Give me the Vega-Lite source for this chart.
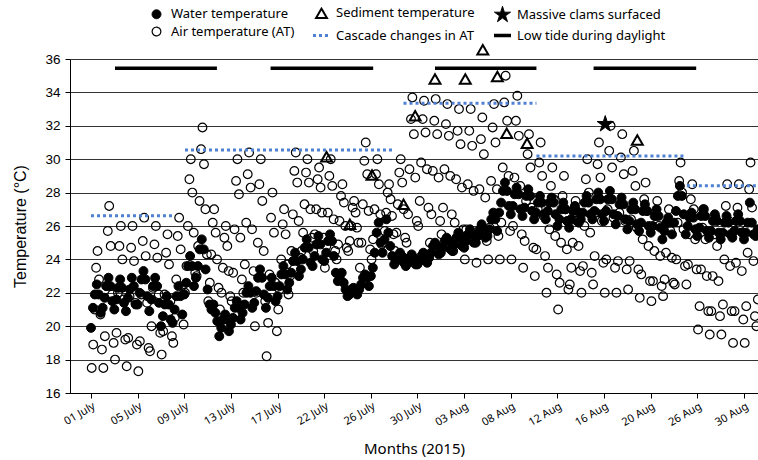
{
"$schema": "https://vega.github.io/schema/vega-lite/v6.json",
"width": 688, "height": 334,
"autosize": {"type": "none"},
"padding": {"left": 70, "top": 59, "right": 0, "bottom": 67},
"background": "white",
"config": {
  "view": {"stroke": null},
  "legend": {"orient": "none", "legendX": 76, "legendY": -54, "columns": 3, "columnPadding": 11, "rowPadding": 0, "labelFont": "Noto Sans", "labelFontSize": 13, "labelColor": "#000", "labelOffset": 4, "symbolOffset": 0, "padding": 0}
},
"datasets": {
"water": [
{"d":0,"t":19.9},{"d":0.17,"t":21.1},{"d":0.33,"t":21.9},{"d":0.5,"t":22.5},{"d":0.67,"t":21.9},{"d":0.83,"t":20.8},
{"d":1,"t":21.1},{"d":1.17,"t":21.7},{"d":1.33,"t":22.4},{"d":1.5,"t":22.9},{"d":1.67,"t":22.4},{"d":1.83,"t":21.5},
{"d":2,"t":21.0},{"d":2.17,"t":21.6},{"d":2.33,"t":22.3},{"d":2.5,"t":22.8},{"d":2.67,"t":22.3},{"d":2.83,"t":21.4},
{"d":3,"t":20.9},{"d":3.17,"t":21.7},{"d":3.33,"t":22.2},{"d":3.5,"t":22.9},{"d":3.67,"t":22.4},{"d":3.83,"t":21.3},
{"d":4,"t":21.3},{"d":4.17,"t":22.0},{"d":4.33,"t":22.8},{"d":4.5,"t":23.3},{"d":4.67,"t":22.8},{"d":4.83,"t":21.8},
{"d":5,"t":20.9},{"d":5.17,"t":21.6},{"d":5.33,"t":22.4},{"d":5.5,"t":22.9},{"d":5.67,"t":22.4},{"d":5.83,"t":21.4},
{"d":6,"t":20.0},{"d":6.17,"t":20.6},{"d":6.33,"t":21.3},{"d":6.5,"t":21.8},{"d":6.67,"t":21.3},{"d":6.83,"t":20.4},
{"d":7,"t":20.2},{"d":7.17,"t":21.0},{"d":7.33,"t":21.8},{"d":7.5,"t":22.4},{"d":7.67,"t":21.8},{"d":7.83,"t":20.7},
{"d":8,"t":21.9},{"d":8.17,"t":22.6},{"d":8.33,"t":23.6},{"d":8.5,"t":24.2},{"d":8.67,"t":23.6},{"d":8.83,"t":22.4},
{"d":9,"t":22.9},{"d":9.17,"t":23.6},{"d":9.33,"t":24.6},{"d":9.5,"t":25.2},{"d":9.67,"t":24.6},{"d":9.83,"t":23.4},
{"d":10,"t":22.2},{"d":10.17,"t":21.3},{"d":10.33,"t":21.0},{"d":10.5,"t":21.3},{"d":10.67,"t":20.8},{"d":10.83,"t":20.3},
{"d":11,"t":19.4},{"d":11.17,"t":19.9},{"d":11.33,"t":20.4},{"d":11.5,"t":20.7},{"d":11.67,"t":20.4},{"d":11.83,"t":19.7},
{"d":12,"t":20.1},{"d":12.17,"t":20.5},{"d":12.33,"t":21.1},{"d":12.5,"t":21.5},{"d":12.67,"t":21.1},{"d":12.83,"t":20.4},
{"d":13,"t":20.8},{"d":13.17,"t":21.3},{"d":13.33,"t":22.0},{"d":13.5,"t":22.4},{"d":13.67,"t":22.0},{"d":13.83,"t":21.1},
{"d":14,"t":21.4},{"d":14.17,"t":22.1},{"d":14.33,"t":22.9},{"d":14.5,"t":23.4},{"d":14.67,"t":22.9},{"d":14.83,"t":21.9},
{"d":15,"t":21.1},{"d":15.17,"t":21.7},{"d":15.33,"t":22.4},{"d":15.5,"t":22.9},{"d":15.67,"t":22.4},{"d":15.83,"t":21.5},
{"d":16,"t":21.8},{"d":16.17,"t":22.4},{"d":16.33,"t":23.1},{"d":16.5,"t":23.6},{"d":16.67,"t":23.1},{"d":16.83,"t":22.2},
{"d":17,"t":22.6},{"d":17.17,"t":23.2},{"d":17.33,"t":23.9},{"d":17.5,"t":24.4},{"d":17.67,"t":23.9},{"d":17.83,"t":23.0},
{"d":18,"t":23.4},{"d":18.17,"t":24.0},{"d":18.33,"t":24.7},{"d":18.5,"t":25.2},{"d":18.67,"t":24.7},{"d":18.83,"t":23.8},
{"d":19,"t":23.6},{"d":19.17,"t":24.2},{"d":19.33,"t":24.9},{"d":19.5,"t":25.4},{"d":19.67,"t":24.9},{"d":19.83,"t":24.0},
{"d":20,"t":23.9},{"d":20.17,"t":24.4},{"d":20.33,"t":25.1},{"d":20.5,"t":25.5},{"d":20.67,"t":25.1},{"d":20.83,"t":24.2},
{"d":21,"t":23.2},{"d":21.17,"t":22.7},{"d":21.33,"t":22.9},{"d":21.5,"t":23.2},{"d":21.67,"t":22.6},{"d":21.83,"t":22.2},
{"d":22,"t":21.8},{"d":22.17,"t":21.9},{"d":22.33,"t":22.2},{"d":22.5,"t":22.3},{"d":22.67,"t":22.1},{"d":22.83,"t":21.9},
{"d":23,"t":22.2},{"d":23.17,"t":22.5},{"d":23.33,"t":22.9},{"d":23.5,"t":23.1},{"d":23.67,"t":22.9},{"d":23.83,"t":22.4},
{"d":24,"t":23.0},{"d":24.17,"t":23.5},{"d":24.33,"t":24.4},{"d":24.5,"t":25.6},{"d":24.67,"t":26.2},{"d":24.83,"t":25.0},
{"d":25,"t":24.4},{"d":25.17,"t":25.2},{"d":25.33,"t":26.4},{"d":25.5,"t":25.6},{"d":25.67,"t":24.8},{"d":25.83,"t":24.2},
{"d":26,"t":23.7},{"d":26.17,"t":23.9},{"d":26.33,"t":24.2},{"d":26.5,"t":24.4},{"d":26.67,"t":24.2},{"d":26.83,"t":23.8},
{"d":27,"t":23.6},{"d":27.17,"t":23.8},{"d":27.33,"t":24.1},{"d":27.5,"t":24.3},{"d":27.67,"t":24.1},{"d":27.83,"t":23.7},
{"d":28,"t":23.7},{"d":28.17,"t":23.9},{"d":28.33,"t":24.2},{"d":28.5,"t":24.4},{"d":28.67,"t":24.2},{"d":28.83,"t":23.8},
{"d":29,"t":24.1},{"d":29.17,"t":24.4},{"d":29.33,"t":24.8},{"d":29.5,"t":25.0},{"d":29.67,"t":24.8},{"d":29.83,"t":24.3},
{"d":30,"t":24.4},{"d":30.17,"t":24.7},{"d":30.33,"t":25.1},{"d":30.5,"t":25.3},{"d":30.67,"t":25.1},{"d":30.83,"t":24.6},
{"d":31,"t":24.5},{"d":31.17,"t":24.9},{"d":31.33,"t":25.3},{"d":31.5,"t":25.6},{"d":31.67,"t":25.3},{"d":31.83,"t":24.8},
{"d":32,"t":24.7},{"d":32.17,"t":25.1},{"d":32.33,"t":25.5},{"d":32.5,"t":25.8},{"d":32.67,"t":25.5},{"d":32.83,"t":25.0},
{"d":33,"t":25.0},{"d":33.17,"t":25.4},{"d":33.33,"t":25.8},{"d":33.5,"t":26.1},{"d":33.67,"t":25.8},{"d":33.83,"t":25.3},
{"d":34,"t":25.4},{"d":34.17,"t":25.8},{"d":34.33,"t":26.4},{"d":34.5,"t":26.8},{"d":34.67,"t":26.4},{"d":34.83,"t":25.7},
{"d":35,"t":26.8},{"d":35.17,"t":27.4},{"d":35.33,"t":28.1},{"d":35.5,"t":28.6},{"d":35.67,"t":28.1},{"d":35.83,"t":27.2},
{"d":36,"t":26.7},{"d":36.17,"t":27.2},{"d":36.33,"t":27.9},{"d":36.5,"t":28.3},{"d":36.67,"t":27.9},{"d":36.83,"t":27.0},
{"d":37,"t":26.6},{"d":37.17,"t":27.1},{"d":37.33,"t":27.8},{"d":37.5,"t":28.2},{"d":37.67,"t":27.8},{"d":37.83,"t":26.9},
{"d":38,"t":26.4},{"d":38.17,"t":26.8},{"d":38.33,"t":27.4},{"d":38.5,"t":27.8},{"d":38.67,"t":27.4},{"d":38.83,"t":26.7},
{"d":39,"t":26.4},{"d":39.17,"t":26.9},{"d":39.33,"t":27.4},{"d":39.5,"t":27.7},{"d":39.67,"t":27.4},{"d":39.83,"t":26.7},
{"d":40,"t":26.0},{"d":40.17,"t":26.4},{"d":40.33,"t":27.0},{"d":40.5,"t":27.4},{"d":40.67,"t":27.0},{"d":40.83,"t":26.3},
{"d":41,"t":25.9},{"d":41.17,"t":26.4},{"d":41.33,"t":26.9},{"d":41.5,"t":27.2},{"d":41.67,"t":26.9},{"d":41.83,"t":26.2},
{"d":42,"t":26.4},{"d":42.17,"t":26.8},{"d":42.33,"t":27.4},{"d":42.5,"t":27.8},{"d":42.67,"t":27.4},{"d":42.83,"t":26.7},
{"d":43,"t":26.4},{"d":43.17,"t":26.9},{"d":43.33,"t":27.6},{"d":43.5,"t":28.0},{"d":43.67,"t":27.6},{"d":43.83,"t":26.7},
{"d":44,"t":26.3},{"d":44.17,"t":26.9},{"d":44.33,"t":27.6},{"d":44.5,"t":28.1},{"d":44.67,"t":27.6},{"d":44.83,"t":26.7},
{"d":45,"t":26.1},{"d":45.17,"t":26.6},{"d":45.33,"t":27.3},{"d":45.5,"t":27.7},{"d":45.67,"t":27.3},{"d":45.83,"t":26.4},
{"d":46,"t":25.8},{"d":46.17,"t":26.3},{"d":46.33,"t":27.0},{"d":46.5,"t":27.4},{"d":46.67,"t":27.0},{"d":46.83,"t":26.1},
{"d":47,"t":25.7},{"d":47.17,"t":26.2},{"d":47.33,"t":26.9},{"d":47.5,"t":27.3},{"d":47.67,"t":26.9},{"d":47.83,"t":26.0},
{"d":48,"t":25.6},{"d":48.17,"t":26.0},{"d":48.33,"t":26.6},{"d":48.5,"t":27.0},{"d":48.67,"t":26.6},{"d":48.83,"t":25.9},
{"d":49,"t":25.2},{"d":49.17,"t":25.7},{"d":49.33,"t":26.2},{"d":49.5,"t":26.5},{"d":49.67,"t":26.2},{"d":49.83,"t":25.5},
{"d":50,"t":26.2},{"d":50.17,"t":26.9},{"d":50.33,"t":27.8},{"d":50.5,"t":28.4},{"d":50.67,"t":27.8},{"d":50.83,"t":26.7},
{"d":51,"t":25.5},{"d":51.17,"t":26.0},{"d":51.33,"t":26.5},{"d":51.5,"t":26.8},{"d":51.67,"t":26.5},{"d":51.83,"t":25.8},
{"d":52,"t":25.4},{"d":52.17,"t":25.9},{"d":52.33,"t":26.6},{"d":52.5,"t":27.0},{"d":52.67,"t":26.6},{"d":52.83,"t":25.7},
{"d":53,"t":25.3},{"d":53.17,"t":25.7},{"d":53.33,"t":26.3},{"d":53.5,"t":26.7},{"d":53.67,"t":26.3},{"d":53.83,"t":25.6},
{"d":54,"t":25.2},{"d":54.17,"t":25.6},{"d":54.33,"t":26.2},{"d":54.5,"t":26.6},{"d":54.67,"t":26.2},{"d":54.83,"t":25.5},
{"d":55,"t":25.3},{"d":55.17,"t":25.7},{"d":55.33,"t":26.3},{"d":55.5,"t":26.7},{"d":55.67,"t":26.3},{"d":55.83,"t":25.6},
{"d":56,"t":25.2},{"d":56.17,"t":25.6},{"d":56.33,"t":26.2},{"d":56.5,"t":27.4},{"d":56.67,"t":26.2},{"d":56.83,"t":25.5},
{"d":57,"t":25.4},{"d":57.17,"t":25.8}
],
"air": [
{"d":0.06,"t":17.5},{"d":0.19,"t":18.9},{"d":0.31,"t":21.0},{"d":0.44,"t":23.5},{"d":0.56,"t":24.5},{"d":0.69,"t":22.8},{"d":0.81,"t":20.7},{"d":0.94,"t":18.6},
{"d":1.06,"t":17.5},{"d":1.19,"t":19.4},{"d":1.31,"t":22.4},{"d":1.44,"t":25.7},{"d":1.56,"t":27.2},{"d":1.69,"t":24.8},{"d":1.81,"t":21.9},{"d":1.94,"t":19.0},
{"d":2.06,"t":18.0},{"d":2.19,"t":19.6},{"d":2.31,"t":22.0},{"d":2.44,"t":24.8},{"d":2.56,"t":26.0},{"d":2.69,"t":24.0},{"d":2.81,"t":21.6},{"d":2.94,"t":19.2},
{"d":3.06,"t":17.6},{"d":3.19,"t":19.3},{"d":3.31,"t":21.8},{"d":3.44,"t":24.7},{"d":3.56,"t":26.0},{"d":3.69,"t":23.9},{"d":3.81,"t":21.4},{"d":3.94,"t":18.9},
{"d":4.06,"t":17.3},{"d":4.19,"t":19.1},{"d":4.31,"t":21.9},{"d":4.44,"t":25.1},{"d":4.56,"t":26.5},{"d":4.69,"t":24.2},{"d":4.81,"t":21.4},{"d":4.94,"t":18.7},
{"d":5.06,"t":18.5},{"d":5.19,"t":20.0},{"d":5.31,"t":22.3},{"d":5.44,"t":24.9},{"d":5.56,"t":26.0},{"d":5.69,"t":24.1},{"d":5.81,"t":21.9},{"d":5.94,"t":19.6},
{"d":6.06,"t":18.3},{"d":6.19,"t":19.7},{"d":6.31,"t":21.9},{"d":6.44,"t":24.4},{"d":6.56,"t":25.5},{"d":6.69,"t":23.7},{"d":6.81,"t":21.5},{"d":6.94,"t":19.4},
{"d":7.06,"t":19.0},{"d":7.19,"t":20.5},{"d":7.31,"t":22.8},{"d":7.44,"t":25.4},{"d":7.56,"t":26.5},{"d":7.69,"t":24.6},{"d":7.81,"t":22.4},{"d":7.94,"t":20.1},
{"d":8.06,"t":22.0},{"d":8.19,"t":23.6},{"d":8.31,"t":26.0},{"d":8.44,"t":28.8},{"d":8.56,"t":30.0},{"d":8.69,"t":28.0},{"d":8.81,"t":25.6},{"d":8.94,"t":23.2},
{"d":9.06,"t":23.0},{"d":9.19,"t":24.8},{"d":9.31,"t":27.5},{"d":9.44,"t":30.6},{"d":9.56,"t":31.9},{"d":9.69,"t":29.7},{"d":9.81,"t":27.0},{"d":9.94,"t":24.3},
{"d":10.06,"t":21.5},{"d":10.19,"t":22.6},{"d":10.31,"t":24.3},{"d":10.44,"t":26.2},{"d":10.56,"t":27.0},{"d":10.69,"t":25.6},{"d":10.81,"t":24.0},{"d":10.94,"t":22.3},
{"d":11.06,"t":21.0},{"d":11.19,"t":22.0},{"d":11.31,"t":23.5},{"d":11.44,"t":25.3},{"d":11.56,"t":26.0},{"d":11.69,"t":24.8},{"d":11.81,"t":23.3},{"d":11.94,"t":21.8},
{"d":12.06,"t":21.5},{"d":12.19,"t":23.2},{"d":12.31,"t":25.8},{"d":12.44,"t":28.7},{"d":12.56,"t":30.0},{"d":12.69,"t":27.9},{"d":12.81,"t":25.3},{"d":12.94,"t":22.8},
{"d":13.06,"t":22.0},{"d":13.19,"t":23.7},{"d":13.31,"t":26.2},{"d":13.44,"t":29.1},{"d":13.56,"t":30.4},{"d":13.69,"t":28.3},{"d":13.81,"t":25.8},{"d":13.94,"t":23.3},
{"d":14.06,"t":20.0},{"d":14.19,"t":22.0},{"d":14.31,"t":25.0},{"d":14.44,"t":28.5},{"d":14.56,"t":30.0},{"d":14.69,"t":27.5},{"d":14.81,"t":24.5},{"d":14.94,"t":21.5},
{"d":15.06,"t":18.2},{"d":15.19,"t":20.2},{"d":15.31,"t":23.1},{"d":15.44,"t":26.5},{"d":15.56,"t":28.0},{"d":15.69,"t":25.6},{"d":15.81,"t":22.6},{"d":15.94,"t":19.7},
{"d":16.06,"t":21.0},{"d":16.19,"t":22.2},{"d":16.31,"t":24.0},{"d":16.44,"t":26.1},{"d":16.56,"t":27.0},{"d":16.69,"t":25.5},{"d":16.81,"t":23.7},{"d":16.94,"t":21.9},
{"d":17.06,"t":23.0},{"d":17.19,"t":24.5},{"d":17.31,"t":26.7},{"d":17.44,"t":29.3},{"d":17.56,"t":30.4},{"d":17.69,"t":28.6},{"d":17.81,"t":26.3},{"d":17.94,"t":24.1},
{"d":18.06,"t":24.5},{"d":18.19,"t":25.6},{"d":18.31,"t":27.3},{"d":18.44,"t":29.2},{"d":18.56,"t":30.0},{"d":18.69,"t":28.6},{"d":18.81,"t":27.0},{"d":18.94,"t":25.3},
{"d":19.06,"t":24.5},{"d":19.19,"t":25.5},{"d":19.31,"t":27.0},{"d":19.44,"t":28.8},{"d":19.56,"t":29.5},{"d":19.69,"t":28.3},{"d":19.81,"t":26.8},{"d":19.94,"t":25.3},
{"d":20.06,"t":23.5},{"d":20.19,"t":24.8},{"d":20.31,"t":26.8},{"d":20.44,"t":29.0},{"d":20.56,"t":30.0},{"d":20.69,"t":28.4},{"d":20.81,"t":26.4},{"d":20.94,"t":24.5},
{"d":21.06,"t":24.0},{"d":21.19,"t":24.9},{"d":21.31,"t":26.3},{"d":21.44,"t":27.8},{"d":21.56,"t":28.5},{"d":21.69,"t":27.4},{"d":21.81,"t":26.0},{"d":21.94,"t":24.7},
{"d":22.06,"t":24.5},{"d":22.19,"t":25.1},{"d":22.31,"t":26.0},{"d":22.44,"t":27.1},{"d":22.56,"t":27.5},{"d":22.69,"t":26.8},{"d":22.81,"t":25.9},{"d":22.94,"t":25.0},
{"d":23.06,"t":23.5},{"d":23.19,"t":25.0},{"d":23.31,"t":27.3},{"d":23.44,"t":29.9},{"d":23.56,"t":31.0},{"d":23.69,"t":29.1},{"d":23.81,"t":26.9},{"d":23.94,"t":24.6},
{"d":24.06,"t":24.0},{"d":24.19,"t":25.2},{"d":24.31,"t":27.0},{"d":24.44,"t":29.1},{"d":24.56,"t":30.0},{"d":24.69,"t":28.5},{"d":24.81,"t":26.7},{"d":24.94,"t":24.9},
{"d":25.06,"t":25.0},{"d":25.19,"t":25.7},{"d":25.31,"t":26.8},{"d":25.44,"t":28.0},{"d":25.56,"t":28.5},{"d":25.69,"t":27.6},{"d":25.81,"t":26.6},{"d":25.94,"t":25.5},
{"d":26.06,"t":24.5},{"d":26.19,"t":25.6},{"d":26.31,"t":27.3},{"d":26.44,"t":29.2},{"d":26.56,"t":30.0},{"d":26.69,"t":28.6},{"d":26.81,"t":27.0},{"d":26.94,"t":25.3},
{"d":27.06,"t":25.0},{"d":27.19,"t":26.7},{"d":27.31,"t":29.4},{"d":27.44,"t":32.4},{"d":27.56,"t":33.7},{"d":27.69,"t":31.5},{"d":27.81,"t":28.9},{"d":27.94,"t":26.3},
{"d":28.06,"t":26.0},{"d":28.19,"t":27.5},{"d":28.31,"t":29.8},{"d":28.44,"t":32.4},{"d":28.56,"t":33.5},{"d":28.69,"t":31.6},{"d":28.81,"t":29.4},{"d":28.94,"t":27.1},
{"d":29.06,"t":25.0},{"d":29.19,"t":26.7},{"d":29.31,"t":29.3},{"d":29.44,"t":32.3},{"d":29.56,"t":33.6},{"d":29.69,"t":31.5},{"d":29.81,"t":28.9},{"d":29.94,"t":26.3},
{"d":30.06,"t":25.5},{"d":30.19,"t":27.1},{"d":30.31,"t":29.4},{"d":30.44,"t":32.1},{"d":30.56,"t":33.3},{"d":30.69,"t":31.4},{"d":30.81,"t":29.0},{"d":30.94,"t":26.7},
{"d":31.06,"t":24.5},{"d":31.19,"t":26.2},{"d":31.31,"t":28.8},{"d":31.44,"t":31.7},{"d":31.56,"t":33.0},{"d":31.69,"t":30.9},{"d":31.81,"t":28.3},{"d":31.94,"t":25.8},
{"d":32.06,"t":24.0},{"d":32.19,"t":25.8},{"d":32.31,"t":28.5},{"d":32.44,"t":31.7},{"d":32.56,"t":33.0},{"d":32.69,"t":30.8},{"d":32.81,"t":28.1},{"d":32.94,"t":25.4},
{"d":33.06,"t":23.8},{"d":33.19,"t":25.5},{"d":33.31,"t":28.2},{"d":33.44,"t":31.2},{"d":33.56,"t":32.5},{"d":33.69,"t":30.3},{"d":33.81,"t":27.7},{"d":33.94,"t":25.1},
{"d":34.06,"t":24.0},{"d":34.19,"t":25.9},{"d":34.31,"t":28.7},{"d":34.44,"t":31.9},{"d":34.56,"t":33.3},{"d":34.69,"t":31.0},{"d":34.81,"t":28.2},{"d":34.94,"t":25.4},
{"d":35.06,"t":24.0},{"d":35.19,"t":26.2},{"d":35.31,"t":29.5},{"d":35.44,"t":33.4},{"d":35.56,"t":35.0},{"d":35.69,"t":32.3},{"d":35.81,"t":29.0},{"d":35.94,"t":25.7},
{"d":36.06,"t":24.0},{"d":36.19,"t":26.0},{"d":36.31,"t":28.9},{"d":36.44,"t":32.3},{"d":36.56,"t":33.8},{"d":36.69,"t":31.4},{"d":36.81,"t":28.4},{"d":36.94,"t":25.5},
{"d":37.06,"t":23.5},{"d":37.19,"t":25.1},{"d":37.31,"t":27.5},{"d":37.44,"t":30.3},{"d":37.56,"t":31.5},{"d":37.69,"t":29.5},{"d":37.81,"t":27.1},{"d":37.94,"t":24.7},
{"d":38.06,"t":23.0},{"d":38.19,"t":24.6},{"d":38.31,"t":27.0},{"d":38.44,"t":29.8},{"d":38.56,"t":31.0},{"d":38.69,"t":29.0},{"d":38.81,"t":26.6},{"d":38.94,"t":24.2},
{"d":39.06,"t":22.0},{"d":39.19,"t":23.5},{"d":39.31,"t":25.8},{"d":39.44,"t":28.4},{"d":39.56,"t":29.5},{"d":39.69,"t":27.6},{"d":39.81,"t":25.4},{"d":39.94,"t":23.1},
{"d":40.06,"t":21.0},{"d":40.19,"t":22.6},{"d":40.31,"t":25.0},{"d":40.44,"t":27.8},{"d":40.56,"t":29.0},{"d":40.69,"t":27.0},{"d":40.81,"t":24.6},{"d":40.94,"t":22.2},
{"d":41.06,"t":22.5},{"d":41.19,"t":23.5},{"d":41.31,"t":25.0},{"d":41.44,"t":26.8},{"d":41.56,"t":27.5},{"d":41.69,"t":26.3},{"d":41.81,"t":24.8},{"d":41.94,"t":23.3},
{"d":42.06,"t":22.0},{"d":42.19,"t":23.6},{"d":42.31,"t":26.0},{"d":42.44,"t":28.8},{"d":42.56,"t":30.0},{"d":42.69,"t":28.0},{"d":42.81,"t":25.6},{"d":42.94,"t":23.2},
{"d":43.06,"t":22.5},{"d":43.19,"t":24.2},{"d":43.31,"t":26.8},{"d":43.44,"t":29.7},{"d":43.56,"t":31.0},{"d":43.69,"t":28.9},{"d":43.81,"t":26.3},{"d":43.94,"t":23.8},
{"d":44.06,"t":22.0},{"d":44.19,"t":24.0},{"d":44.31,"t":27.0},{"d":44.44,"t":30.5},{"d":44.56,"t":32.0},{"d":44.69,"t":29.5},{"d":44.81,"t":26.5},{"d":44.94,"t":23.5},
{"d":45.06,"t":22.0},{"d":45.19,"t":23.9},{"d":45.31,"t":26.8},{"d":45.44,"t":30.1},{"d":45.56,"t":31.5},{"d":45.69,"t":29.1},{"d":45.81,"t":26.3},{"d":45.94,"t":23.4},
{"d":46.06,"t":22.2},{"d":46.19,"t":23.9},{"d":46.31,"t":26.4},{"d":46.44,"t":29.3},{"d":46.56,"t":30.5},{"d":46.69,"t":28.4},{"d":46.81,"t":25.9},{"d":46.94,"t":23.4},
{"d":47.06,"t":21.7},{"d":47.19,"t":23.1},{"d":47.31,"t":25.2},{"d":47.44,"t":27.6},{"d":47.56,"t":28.6},{"d":47.69,"t":26.9},{"d":47.81,"t":24.8},{"d":47.94,"t":22.7},
{"d":48.06,"t":21.5},{"d":48.19,"t":22.7},{"d":48.31,"t":24.5},{"d":48.44,"t":26.6},{"d":48.56,"t":27.5},{"d":48.69,"t":26.0},{"d":48.81,"t":24.2},{"d":48.94,"t":22.4},
{"d":49.06,"t":21.8},{"d":49.19,"t":22.8},{"d":49.31,"t":24.4},{"d":49.44,"t":26.2},{"d":49.56,"t":27.0},{"d":49.69,"t":25.7},{"d":49.81,"t":24.1},{"d":49.94,"t":22.6},
{"d":50.06,"t":22.5},{"d":50.19,"t":24.0},{"d":50.31,"t":26.2},{"d":50.44,"t":28.7},{"d":50.56,"t":29.8},{"d":50.69,"t":28.0},{"d":50.81,"t":25.8},{"d":50.94,"t":23.6},
{"d":51.06,"t":22.5},{"d":51.19,"t":23.7},{"d":51.31,"t":25.5},{"d":51.44,"t":27.6},{"d":51.56,"t":28.5},{"d":51.69,"t":27.0},{"d":51.81,"t":25.2},{"d":51.94,"t":23.4},
{"d":52.06,"t":19.8},{"d":52.19,"t":21.2},{"d":52.31,"t":23.4},{"d":52.44,"t":25.9},{"d":52.56,"t":27.0},{"d":52.69,"t":25.2},{"d":52.81,"t":23.0},{"d":52.94,"t":20.9},
{"d":53.06,"t":19.5},{"d":53.19,"t":20.9},{"d":53.31,"t":23.0},{"d":53.44,"t":25.5},{"d":53.56,"t":26.5},{"d":53.69,"t":24.8},{"d":53.81,"t":22.7},{"d":53.94,"t":20.6},
{"d":54.06,"t":19.5},{"d":54.19,"t":21.3},{"d":54.31,"t":24.0},{"d":54.44,"t":27.2},{"d":54.56,"t":28.5},{"d":54.69,"t":26.3},{"d":54.81,"t":23.6},{"d":54.94,"t":20.9},
{"d":55.06,"t":19.0},{"d":55.19,"t":20.9},{"d":55.31,"t":23.8},{"d":55.44,"t":27.1},{"d":55.56,"t":28.5},{"d":55.69,"t":26.1},{"d":55.81,"t":23.3},{"d":55.94,"t":20.4},
{"d":56.06,"t":19.0},{"d":56.19,"t":21.2},{"d":56.31,"t":24.4},{"d":56.44,"t":28.2},{"d":56.56,"t":29.8},{"d":56.69,"t":27.1},{"d":56.81,"t":23.9},{"d":56.94,"t":20.6},
{"d":57.06,"t":20.0},{"d":57.19,"t":21.6}
],
"sediment": [
{"d":20.2,"t":30.15},{"d":22.2,"t":26.1},{"d":24.1,"t":29.05},{"d":26.8,"t":27.3},{"d":27.8,"t":32.6},{"d":29.5,"t":34.8},{"d":32.1,"t":34.8},{"d":33.6,"t":36.55},{"d":34.85,"t":34.95},{"d":35.65,"t":31.55},{"d":37.4,"t":30.95},{"d":46.85,"t":31.15}
],
"clams": [{"d":44.1,"t":32.1}],
"cascade": [
{"d":0,"d1":7.2,"t":26.62},{"d":8.06,"d1":25.9,"t":30.55},{"d":26.8,"d1":38.2,"t":33.35},{"d":38.2,"d1":50.9,"t":30.19},{"d":51.1,"d1":57.2,"t":28.41}
],
"tide": [
{"d":2.06,"d1":10.8,"t":35.45},{"d":15.4,"d1":24.2,"t":35.45},{"d":29.5,"d1":38.2,"t":35.45},{"d":43.1,"d1":51.9,"t":35.45}
]
},
"encoding": {
  "x": {"field": "d", "type": "quantitative", "scale": {"domain": [-1.8, 57.2], "nice": false, "zero": false},
    "axis": {"title": "Months (2015)", "values": [0,4,8,12,16,20,24,28,32,36,40,44,48,52,56],
      "labelExpr": "['01 July','05 July','09 July','13 July','17 July','22 July','26 July','30 July','03 Aug','08 Aug','12 Aug','16 Aug','20 Aug','26 Aug','30 Aug'][datum.value/4]",
      "labelAngle": -30, "labelFont": "Noto Sans", "labelFontSize": 11, "labelColor": "#000", "labelPadding": 2,
      "tickSize": 5, "tickColor": "#000", "domainColor": "#000", "grid": false,
      "titleFont": "Noto Sans", "titleFontSize": 15, "titleFontWeight": "normal", "titleColor": "#000", "titlePadding": 14}},
  "y": {"field": "t", "type": "quantitative", "scale": {"domain": [16, 36], "nice": false, "zero": false},
    "axis": {"title": "Temperature (°C)", "values": [16,18,20,22,24,26,28,30,32,34,36], "grid": true, "gridColor": "#333", "gridWidth": 1,
      "domainColor": "#000", "tickColor": "#000", "tickSize": 5, "labelFont": "Liberation Sans", "labelFontSize": 13.5, "labelColor": "#000", "labelPadding": 5,
      "titleFont": "Liberation Sans", "titleFontSize": 16, "titleFontWeight": "normal", "titleColor": "#000", "titlePadding": 16}}
},
"layer": [
{"data": {"name": "air"}, "mark": {"type": "point", "opacity": 1},
 "encoding": {
  "shape": {"datum": "Air temperature (AT)", "type": "nominal", "scale": {"domain": ["Water temperature","Air temperature (AT)","Sediment temperature","Cascade changes in AT","Massive clams surfaced","Low tide during daylight"], "range": ["circle","circle","triangle-up","stroke","M0,-1L0.22,-0.31L0.95,-0.31L0.36,0.12L0.59,0.81L0,0.38L-0.59,0.81L-0.36,0.12L-0.95,-0.31L-0.22,-0.31Z","stroke"]}, "legend": {"title": null}},
  "fill": {"datum": "Air temperature (AT)", "type": "nominal", "scale": {"domain": ["Water temperature","Air temperature (AT)","Sediment temperature","Cascade changes in AT","Massive clams surfaced","Low tide during daylight"], "range": ["#000","transparent","transparent","transparent","#000","transparent"]}, "legend": {"title": null}},
  "stroke": {"datum": "Air temperature (AT)", "type": "nominal", "scale": {"domain": ["Water temperature","Air temperature (AT)","Sediment temperature","Cascade changes in AT","Massive clams surfaced","Low tide during daylight"], "range": ["#000","#000","#000","#4f81d3","#000","#000"]}, "legend": {"title": null}},
  "strokeWidth": {"datum": "Air temperature (AT)", "type": "nominal", "scale": {"type": "ordinal", "domain": ["Water temperature","Air temperature (AT)","Sediment temperature","Cascade changes in AT","Massive clams surfaced","Low tide during daylight"], "range": [1,1.2,2,3,1,3.5]}, "legend": {"title": null}},
  "size": {"datum": "Air temperature (AT)", "type": "nominal", "scale": {"type": "ordinal", "domain": ["Water temperature","Air temperature (AT)","Sediment temperature","Cascade changes in AT","Massive clams surfaced","Low tide during daylight"], "range": [80,75,120,290,290,290]}, "legend": {"title": null}}
 }},
{"data": {"name": "water"}, "mark": {"type": "point", "opacity": 1},
 "encoding": {
  "shape": {"datum": "Water temperature", "type": "nominal", "scale": {"domain": ["Water temperature","Air temperature (AT)","Sediment temperature","Cascade changes in AT","Massive clams surfaced","Low tide during daylight"], "range": ["circle","circle","triangle-up","stroke","M0,-1L0.22,-0.31L0.95,-0.31L0.36,0.12L0.59,0.81L0,0.38L-0.59,0.81L-0.36,0.12L-0.95,-0.31L-0.22,-0.31Z","stroke"]}, "legend": {"title": null}},
  "fill": {"datum": "Water temperature", "type": "nominal", "scale": {"domain": ["Water temperature","Air temperature (AT)","Sediment temperature","Cascade changes in AT","Massive clams surfaced","Low tide during daylight"], "range": ["#000","transparent","transparent","transparent","#000","transparent"]}, "legend": {"title": null}},
  "stroke": {"datum": "Water temperature", "type": "nominal", "scale": {"domain": ["Water temperature","Air temperature (AT)","Sediment temperature","Cascade changes in AT","Massive clams surfaced","Low tide during daylight"], "range": ["#000","#000","#000","#4f81d3","#000","#000"]}, "legend": {"title": null}},
  "strokeWidth": {"datum": "Water temperature", "type": "nominal", "scale": {"type": "ordinal", "domain": ["Water temperature","Air temperature (AT)","Sediment temperature","Cascade changes in AT","Massive clams surfaced","Low tide during daylight"], "range": [1,1.2,2,3,1,3.5]}, "legend": {"title": null}},
  "size": {"datum": "Water temperature", "type": "nominal", "scale": {"type": "ordinal", "domain": ["Water temperature","Air temperature (AT)","Sediment temperature","Cascade changes in AT","Massive clams surfaced","Low tide during daylight"], "range": [80,75,120,290,290,290]}, "legend": {"title": null}}
 }},
{"data": {"name": "cascade"}, "mark": {"type": "rule", "strokeCap": "butt"},
 "encoding": {
  "x2": {"field": "d1"},
  "stroke": {"datum": "Cascade changes in AT", "type": "nominal", "scale": {"domain": ["Water temperature","Air temperature (AT)","Sediment temperature","Cascade changes in AT","Massive clams surfaced","Low tide during daylight"], "range": ["#000","#000","#000","#4f81d3","#000","#000"]}, "legend": {"title": null}},
  "strokeWidth": {"datum": "Cascade changes in AT", "type": "nominal", "scale": {"type": "ordinal", "domain": ["Water temperature","Air temperature (AT)","Sediment temperature","Cascade changes in AT","Massive clams surfaced","Low tide during daylight"], "range": [1,1.2,2,3,1,3.5]}, "legend": {"title": null}},
  "strokeDash": {"datum": "Cascade changes in AT", "type": "nominal", "scale": {"domain": ["Water temperature","Air temperature (AT)","Sediment temperature","Cascade changes in AT","Massive clams surfaced","Low tide during daylight"], "range": [[1,0],[1,0],[1,0],[3,3],[1,0],[1,0]]}, "legend": {"title": null}}
 }},
{"data": {"name": "tide"}, "mark": {"type": "rule", "strokeCap": "butt"},
 "encoding": {
  "x2": {"field": "d1"},
  "stroke": {"datum": "Low tide during daylight", "type": "nominal", "scale": {"domain": ["Water temperature","Air temperature (AT)","Sediment temperature","Cascade changes in AT","Massive clams surfaced","Low tide during daylight"], "range": ["#000","#000","#000","#4f81d3","#000","#000"]}, "legend": {"title": null}},
  "strokeWidth": {"datum": "Low tide during daylight", "type": "nominal", "scale": {"type": "ordinal", "domain": ["Water temperature","Air temperature (AT)","Sediment temperature","Cascade changes in AT","Massive clams surfaced","Low tide during daylight"], "range": [1,1.2,2,3,1,3.5]}, "legend": {"title": null}},
  "strokeDash": {"datum": "Low tide during daylight", "type": "nominal", "scale": {"domain": ["Water temperature","Air temperature (AT)","Sediment temperature","Cascade changes in AT","Massive clams surfaced","Low tide during daylight"], "range": [[1,0],[1,0],[1,0],[3,3],[1,0],[1,0]]}, "legend": {"title": null}}
 }},
{"data": {"name": "sediment"}, "mark": {"type": "point", "opacity": 1},
 "encoding": {
  "shape": {"datum": "Sediment temperature", "type": "nominal", "scale": {"domain": ["Water temperature","Air temperature (AT)","Sediment temperature","Cascade changes in AT","Massive clams surfaced","Low tide during daylight"], "range": ["circle","circle","triangle-up","stroke","M0,-1L0.22,-0.31L0.95,-0.31L0.36,0.12L0.59,0.81L0,0.38L-0.59,0.81L-0.36,0.12L-0.95,-0.31L-0.22,-0.31Z","stroke"]}, "legend": {"title": null}},
  "fill": {"datum": "Sediment temperature", "type": "nominal", "scale": {"domain": ["Water temperature","Air temperature (AT)","Sediment temperature","Cascade changes in AT","Massive clams surfaced","Low tide during daylight"], "range": ["#000","transparent","transparent","transparent","#000","transparent"]}, "legend": {"title": null}},
  "stroke": {"datum": "Sediment temperature", "type": "nominal", "scale": {"domain": ["Water temperature","Air temperature (AT)","Sediment temperature","Cascade changes in AT","Massive clams surfaced","Low tide during daylight"], "range": ["#000","#000","#000","#4f81d3","#000","#000"]}, "legend": {"title": null}},
  "strokeWidth": {"datum": "Sediment temperature", "type": "nominal", "scale": {"type": "ordinal", "domain": ["Water temperature","Air temperature (AT)","Sediment temperature","Cascade changes in AT","Massive clams surfaced","Low tide during daylight"], "range": [1,1.2,2,3,1,3.5]}, "legend": {"title": null}},
  "size": {"datum": "Sediment temperature", "type": "nominal", "scale": {"type": "ordinal", "domain": ["Water temperature","Air temperature (AT)","Sediment temperature","Cascade changes in AT","Massive clams surfaced","Low tide during daylight"], "range": [80,75,120,290,290,290]}, "legend": {"title": null}}
 }},
{"data": {"name": "clams"}, "mark": {"type": "point", "opacity": 1},
 "encoding": {
  "shape": {"datum": "Massive clams surfaced", "type": "nominal", "scale": {"domain": ["Water temperature","Air temperature (AT)","Sediment temperature","Cascade changes in AT","Massive clams surfaced","Low tide during daylight"], "range": ["circle","circle","triangle-up","stroke","M0,-1L0.22,-0.31L0.95,-0.31L0.36,0.12L0.59,0.81L0,0.38L-0.59,0.81L-0.36,0.12L-0.95,-0.31L-0.22,-0.31Z","stroke"]}, "legend": {"title": null}},
  "fill": {"datum": "Massive clams surfaced", "type": "nominal", "scale": {"domain": ["Water temperature","Air temperature (AT)","Sediment temperature","Cascade changes in AT","Massive clams surfaced","Low tide during daylight"], "range": ["#000","transparent","transparent","transparent","#000","transparent"]}, "legend": {"title": null}},
  "stroke": {"datum": "Massive clams surfaced", "type": "nominal", "scale": {"domain": ["Water temperature","Air temperature (AT)","Sediment temperature","Cascade changes in AT","Massive clams surfaced","Low tide during daylight"], "range": ["#000","#000","#000","#4f81d3","#000","#000"]}, "legend": {"title": null}},
  "strokeWidth": {"datum": "Massive clams surfaced", "type": "nominal", "scale": {"type": "ordinal", "domain": ["Water temperature","Air temperature (AT)","Sediment temperature","Cascade changes in AT","Massive clams surfaced","Low tide during daylight"], "range": [1,1.2,2,3,1,3.5]}, "legend": {"title": null}},
  "size": {"datum": "Massive clams surfaced", "type": "nominal", "scale": {"type": "ordinal", "domain": ["Water temperature","Air temperature (AT)","Sediment temperature","Cascade changes in AT","Massive clams surfaced","Low tide during daylight"], "range": [80,75,120,290,290,290]}, "legend": {"title": null}}
 }}
]
}
